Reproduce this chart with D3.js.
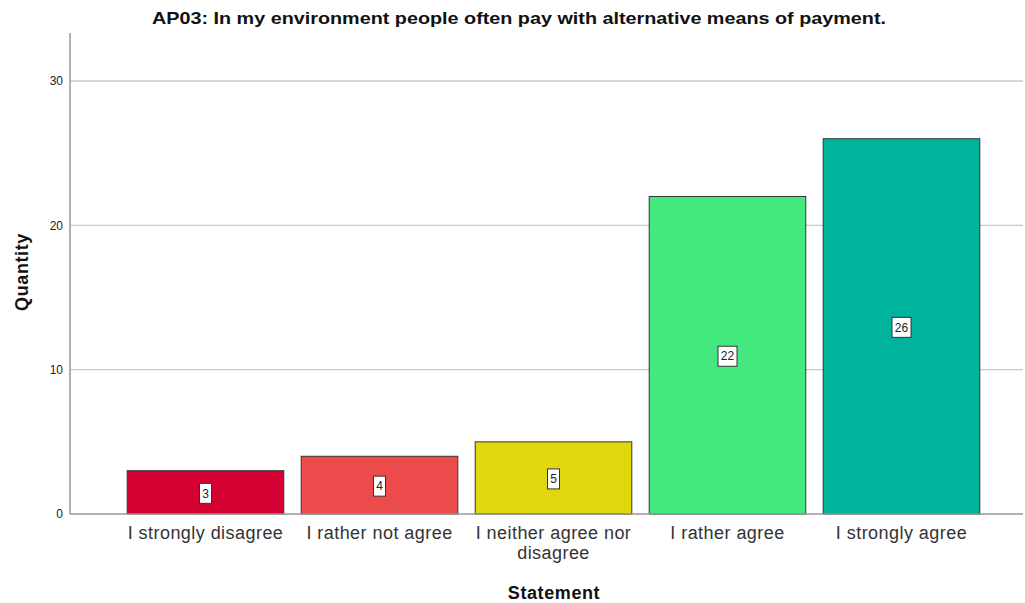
<!DOCTYPE html>
<html><head><meta charset="utf-8">
<script src="https://cdn.jsdelivr.net/npm/d3@7"></script>
<style>body{margin:0;background:#fff}svg{display:block;font-family:Arial,"Liberation Sans",sans-serif}</style>
</head><body>
<svg id="c" width="1025" height="603"></svg>
<script>
const categories = ["I strongly disagree","I rather not agree","I neither agree nor disagree","I rather agree","I strongly agree"];
const categoryLines = [["I strongly disagree"],["I rather not agree"],["I neither agree nor","disagree"],["I rather agree"],["I strongly agree"]];
const values = [3,4,5,22,26];
const colors = ["#d50032","#ec4b4b","#e1d70f","#43e97e","#00b39c"];
const yTicks = [0,10,20,30];

const svg = d3.select("#c");
const x = d3.scaleBand().domain(categories).range([118.5,988.5]).paddingInner(0.1).paddingOuter(0.05);
const y = d3.scaleLinear().domain([0,30]).range([514,81]);
const yTop = y.invert(33);

// grid
svg.append("g").selectAll("line").data(yTicks.filter(d=>d>0)).join("line")
  .attr("x1",70).attr("x2",1023).attr("y1",d=>y(d)).attr("y2",d=>y(d))
  .attr("stroke","#c8c8c8").attr("stroke-width",1.3);

// bars
svg.append("g").selectAll("rect").data(values).join("rect")
  .attr("x",(d,i)=>x(categories[i])).attr("width",x.bandwidth())
  .attr("y",d=>y(d)).attr("height",d=>y(0)-y(d))
  .attr("fill",(d,i)=>colors[i]).attr("stroke","#333").attr("stroke-width",1);

// axes
const yAxis = d3.axisLeft(y).tickValues(yTicks).tickSize(0).tickPadding(7);
const ga = svg.append("g").attr("transform","translate(70,0)").call(yAxis);
ga.select(".domain").remove();
ga.selectAll("text").attr("font-size",12).attr("fill","#222").attr("font-family","Arial, 'Liberation Sans', sans-serif");
svg.append("line").attr("x1",70).attr("x2",70).attr("y1",y(yTop)).attr("y2",514).attr("stroke","#999").attr("stroke-width",1.5);
svg.append("line").attr("x1",70).attr("x2",1023).attr("y1",514).attr("y2",514).attr("stroke","#999").attr("stroke-width",1.5);

// value labels
const lab = svg.append("g").selectAll("g").data(values).join("g")
  .attr("transform",(d,i)=>`translate(${x(categories[i])+x.bandwidth()/2},${(y(d)+y(0))/2+1})`);
lab.append("rect").attr("x",d=>d>=10?-9.5:-6).attr("width",d=>d>=10?19:12).attr("y",-10).attr("height",20)
  .attr("fill","#fff").attr("stroke","#333").attr("stroke-width",1);
lab.append("text").attr("text-anchor","middle").attr("dy","0.35em").attr("font-size",12).attr("fill","#222").text(d=>d);

// category labels
const cl = svg.append("g").selectAll("text").data(categories).join("text")
  .attr("x",d=>x(d)+x.bandwidth()/2).attr("y",539).attr("text-anchor","middle")
  .attr("font-size",18).attr("letter-spacing",0.45).attr("fill","#333");
cl.each(function(d,i){
  const t=d3.select(this);
  categoryLines[i].forEach((l,j)=>t.append("tspan").attr("x",x(d)+x.bandwidth()/2).attr("dy",j?19.5:0).text(l));
});

// titles
svg.append("text").attr("x",519).attr("y",24).attr("text-anchor","middle").attr("font-size",17).attr("font-weight","bold").attr("fill","#111")
  .attr("textLength",734).attr("lengthAdjust","spacingAndGlyphs")
  .text("AP03: In my environment people often pay with alternative means of payment.");
svg.append("text").attr("transform","translate(28,272) rotate(-90)").attr("text-anchor","middle").attr("font-size",18).attr("letter-spacing",0.6).attr("font-weight","bold").attr("fill","#111").text("Quantity");
svg.append("text").attr("x",554).attr("y",599).attr("text-anchor","middle").attr("font-size",18).attr("letter-spacing",0.6).attr("font-weight","bold").attr("fill","#111").text("Statement");
</script>
</body></html>
